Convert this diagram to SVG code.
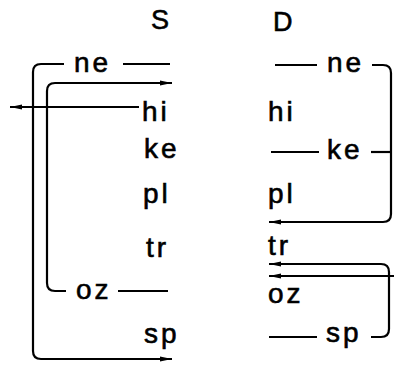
<svg xmlns="http://www.w3.org/2000/svg" width="394" height="366" viewBox="0 0 394 366">
<style>
.t{font-family:"Liberation Sans",Arial,sans-serif;font-size:28px;letter-spacing:3px;fill:#000;stroke:#000;stroke-width:0.6}
.h{font-family:"Liberation Sans",Arial,sans-serif;font-size:27px;fill:#000;stroke:#000;stroke-width:0.6}
.c{fill:none;stroke:#000;stroke-width:2.2}
</style>
<defs>
<marker id="ah" markerUnits="userSpaceOnUse" markerWidth="13" markerHeight="6" refX="12" refY="3" orient="auto">
<path d="M0,0.5 L12,3 L0,5.5 z" fill="#000"/>
</marker>
</defs>
<rect width="394" height="366" fill="#fff"/>
<g id="col-S">
<text class="h" x="151" y="29">S</text>
</g>
<g id="col-D">
<text class="h" x="273" y="31">D</text>
</g>
<g id="S-ne"><text class="t" x="74" y="72">ne</text></g>
<g id="S-hi"><text class="t" x="142" y="121">hi</text></g>
<g id="S-ke"><text class="t" x="144" y="158">ke</text></g>
<g id="S-pl"><text class="t" x="143" y="203">pl</text></g>
<g id="S-tr"><text class="t" x="146" y="257">tr</text></g>
<g id="S-oz"><text class="t" x="76" y="299">oz</text></g>
<g id="S-sp"><text class="t" x="144" y="343">sp</text></g>
<g id="D-ne"><text class="t" x="327" y="72">ne</text></g>
<g id="D-hi"><text class="t" x="268" y="121">hi</text></g>
<g id="D-ke"><text class="t" x="327" y="159">ke</text></g>
<g id="D-pl"><text class="t" x="268" y="203">pl</text></g>
<g id="D-tr"><text class="t" x="268" y="255">tr</text></g>
<g id="D-oz"><text class="t" x="268" y="303">oz</text></g>
<g id="D-sp"><text class="t" x="326" y="342">sp</text></g>
<g id="connectors">
<path class="c" d="M64 64 H41 Q33 64 33 72 V351 Q33 359 41 359 H172" marker-end="url(#ah)"/>
<path class="c" d="M66 291 H55 Q47 291 47 283 V91 Q47 83 55 83 H172" marker-end="url(#ah)"/>
<path class="c" d="M139 107 H10" marker-end="url(#ah)"/>
<path class="c" d="M123 64 H170"/>
<path class="c" d="M118 291 H168"/>
<path class="c" d="M275 65 H317"/>
<path class="c" d="M271 152 H319"/>
<path class="c" d="M269 337 H317"/>
<path class="c" d="M372 65 H383 Q391 65 391 73 V214 Q391 222 383 222 H269" marker-end="url(#ah)"/>
<path class="c" d="M371 152 H391"/>
<path class="c" d="M371 337 H381 Q389 337 389 329 V272 Q389 264 381 264 H269" marker-end="url(#ah)"/>
<path class="c" d="M394 276 H269" marker-end="url(#ah)"/>
</g>
</svg>
